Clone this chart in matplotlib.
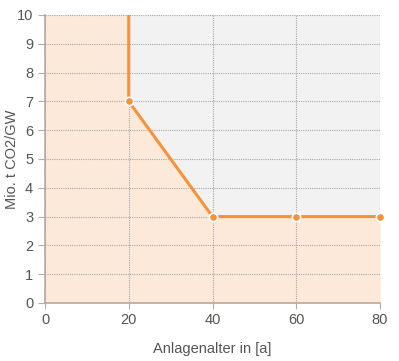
import matplotlib
matplotlib.use("Agg")
import matplotlib.pyplot as plt

plt.rcParams['font.family'] = ['Liberation Sans', 'DejaVu Sans']

line_x = [20, 20, 40, 60, 80]
line_y = [10, 7, 3, 3, 3]
fill_x = [0, 20, 20, 40, 60, 80]
fill_y = [10, 10, 7, 3, 3, 3]
marker_x = [20, 40, 60, 80]
marker_y = [7, 3, 3, 3]
x_ticks = [0, 20, 40, 60, 80]
y_ticks = list(range(0, 11))

fig = plt.figure(figsize=(3.99, 3.61), dpi=100)
ax = fig.add_axes([45/399, 58/361, 335/399, 288/361])
ax.set_facecolor('#f2f2f2')
ax.fill_between(fill_x, fill_y, 0, color='#fde9da', lw=0, zorder=1)
ax.plot(line_x, line_y, color='#f7923a', lw=2.2, zorder=3, solid_capstyle='butt')
ax.plot(marker_x, marker_y, 'o', ms=6, color='#f7923a', mec='white', mew=1.2, zorder=4, clip_on=False)

ax.set_xlim(0, 80)
ax.set_ylim(0, 10)
ax.set_xticks(x_ticks)
ax.set_yticks(y_ticks)
ax.grid(True, color='#a8a8a8', ls=(0, (1, 1)), lw=0.8, zorder=2)
ax.set_axisbelow(False)
for s in ['top', 'right']:
    ax.spines[s].set_visible(False)
ax.spines['left'].set_color('#b8aca0')
ax.spines['bottom'].set_color('#b8aca0')
ax.spines['left'].set_linewidth(1.2)
ax.spines['bottom'].set_linewidth(1.2)
ax.tick_params(axis='both', colors='#b8aca0', labelcolor='#555555', labelsize=10.5, length=4)
ax.tick_params(axis='y', length=5)
ax.set_xlabel('Anlagenalter in [a]', color='#555555', fontsize=10.5)
ax.set_ylabel('Mio. t CO2/GW', color='#555555', fontsize=10.5)
ax.xaxis.set_label_coords(0.5, -39/288)
ax.yaxis.set_label_coords(-26/335, 0.5)

fig.savefig('out.png', dpi=100)
